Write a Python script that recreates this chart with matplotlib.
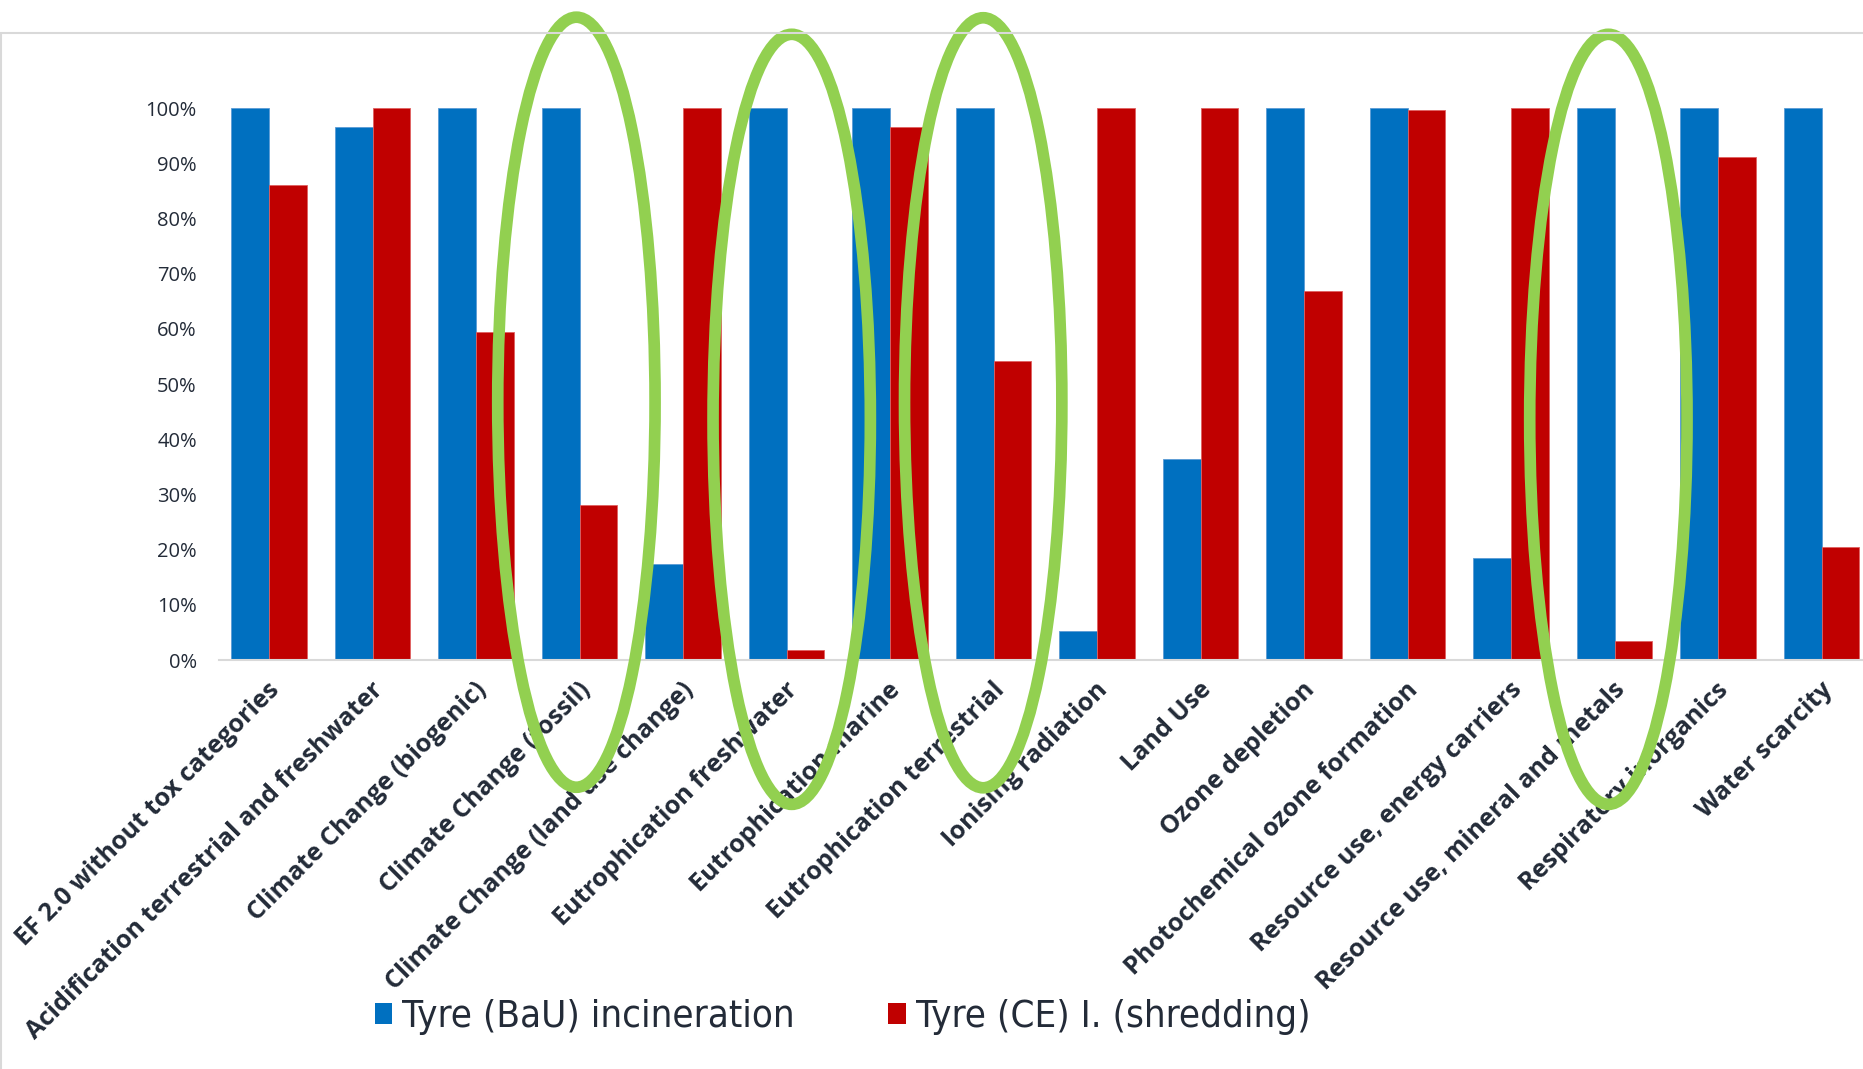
import matplotlib
matplotlib.use("Agg")
import matplotlib.pyplot as plt
import matplotlib.transforms as mtransforms
import numpy as np
from matplotlib.patches import Patch, Ellipse, Rectangle

# categories and values (share of the max per category)
categories = [
    "EF 2.0 without tox categories",
    "Acidification terrestrial and freshwater",
    "Climate Change (biogenic)",
    "Climate Change (fossil)",
    "Climate Change (land use change)",
    "Eutrophication freshwater",
    "Eutrophication marine",
    "Eutrophication terrestrial",
    "Ionising radiation",
    "Land Use",
    "Ozone depletion",
    "Photochemical ozone formation",
    "Resource use, energy carriers",
    "Resource use, mineral and metals",
    "Respiratory inorganics",
    "Water scarcity",
]
bau = [1.00, 0.966, 1.00, 1.00, 0.174, 1.00, 1.00, 1.00, 0.053, 0.365, 1.00, 1.00, 0.185, 1.00, 1.00, 1.00]
ce = [0.860, 1.00, 0.594, 0.280, 1.00, 0.019, 0.966, 0.542, 1.00, 1.00, 0.668, 0.996, 1.00, 0.034, 0.912, 0.205]
series_names = ["Tyre (BaU) incineration", "Tyre (CE) I. (shredding)"]

# highlighted categories (green rings): centre x, centre y in data units
rings = [(2.97, 0.467), (5.05, 0.436), (6.90, 0.466), (12.94, 0.436)]

blue = "#0070C0"
red = "#C00000"
green = "#92D050"
txt = "#232b38"

fig = plt.figure(figsize=(18.63, 10.69), dpi=100)
ax = fig.add_axes([219 / 1863, 1 - 660 / 1069, 1 - 219 / 1863, 552 / 1069])

x = np.arange(len(categories))
w = 0.364
ax.bar(x - w / 2, bau, w, color=blue, edgecolor="#5b9bd5", linewidth=0.6, label=series_names[0])
ax.bar(x + w / 2, ce, w, color=red, edgecolor="#e06060", linewidth=0.6, label=series_names[1])

ax.set_xlim(-0.483, 15.40)
ax.set_ylim(0, 1.0)
ax.set_yticks(np.arange(0, 1.01, 0.1))
ax.set_yticklabels([f"{int(round(v * 100))}%" for v in np.arange(0, 1.01, 0.1)],
                   fontsize=14.5, color=txt, family=["Open Sans", "DejaVu Sans"])
ax.tick_params(axis="y", length=0, pad=16)

ax.set_xticks(x)
ax.set_xticklabels(categories, rotation=45, ha="right", va="center", rotation_mode="anchor",
                   fontsize=18.2, color=txt, fontweight="bold", family=["Open Sans", "DejaVu Sans"])
ax.tick_params(axis="x", length=0, pad=19)
shift = mtransforms.ScaledTranslation(7 / 100, 0, fig.dpi_scale_trans)
for lab in ax.get_xticklabels():
    lab.set_transform(lab.get_transform() + shift)

for s in ["top", "right", "left"]:
    ax.spines[s].set_visible(False)
ax.spines["bottom"].set_color("#d9d9d9")
ax.spines["bottom"].set_linewidth(1.5)

for cx, cy in rings:
    ax.add_patch(Ellipse((cx, cy), 1.52, 1.395, fill=False, edgecolor=green,
                         linewidth=8.4, clip_on=False, zorder=5))

# chart frame
fig.add_artist(Rectangle((0.0005, -0.01), 1.01, 1 - 33 / 1069 + 0.01, transform=fig.transFigure,
                         fill=False, edgecolor="#d9d9d9", linewidth=1.5))

handles = [Patch(facecolor=blue), Patch(facecolor=red)]
fig.legend(handles, series_names, loc="center left", bbox_to_anchor=(356 / 1863, 1 - 1017 / 1069),
           ncol=2, frameon=False, borderpad=0, handlelength=0.45, handleheight=0.45,
           handletextpad=0.26, columnspacing=2.45,
           prop={"family": "DejaVu Sans", "stretch": "condensed", "size": 27.5},
           labelcolor=txt)

fig.savefig("out.png", dpi=100)
